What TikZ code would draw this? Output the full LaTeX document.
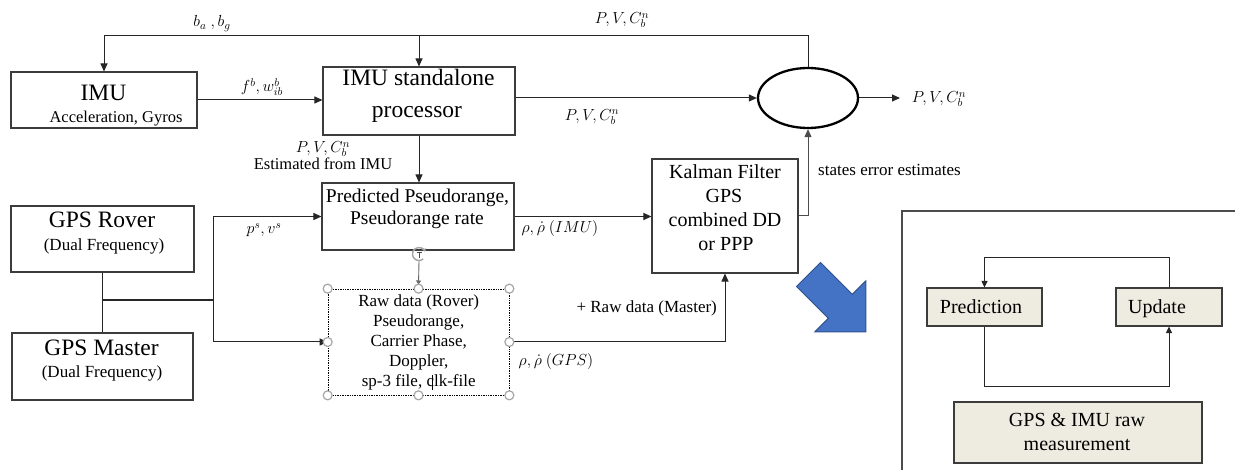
\RequirePackage{fix-cm}
\documentclass[tikz,border=0pt]{standalone}
\usepackage{fontspec}
\setmainfont{Liberation Serif}
\usetikzlibrary{arrows.meta,shapes.geometric}
\definecolor{boxc}{HTML}{3C3C3C}
\definecolor{linec}{HTML}{262626}
\definecolor{paper}{HTML}{EEECE1}
\definecolor{kfblue}{HTML}{4472C4}
\definecolor{kfedge}{HTML}{2F528F}
\definecolor{handlec}{HTML}{A6A6A6}
\tikzset{
  box/.style={draw=boxc, line width=1.1pt, inner sep=0pt, rectangle},
  tanbox/.style={box, fill=paper},
  tx/.style={inner sep=0pt, anchor=base},
  fbig/.style={font=\fontsize{23.5}{27}\selectfont},
  fmid/.style={font=\fontsize{20}{24}\selectfont},
  fpred/.style={font=\fontsize{19.5}{23}\selectfont},
  fsm/.style={font=\fontsize{17}{20}\selectfont},
  fsub/.style={font=\fontsize{16.5}{19}\selectfont},
  flab/.style={font=\fontsize{16}{19}\selectfont},
  wire/.style={draw=linec, line width=1pt},
  arr/.style={wire, -{Triangle[length=8pt,width=7pt]}},
  sarr/.style={wire, -{Triangle[length=6.5pt,width=6pt]}},
  grip/.style={draw=handlec, fill=white, line width=1.2pt},
}
\begin{document}
\begin{tikzpicture}[x=1pt,y=-1pt]
\useasboundingbox (0,0) rectangle (1235,470);

% ---- main blocks ----
\node[box, minimum width=186pt, minimum height=56pt] (imu) at (104,100) {};
\node[box, minimum width=192pt, minimum height=68pt] (sa) at (419,101) {};
\node[box, minimum width=192pt, minimum height=67pt] (pred) at (418,216.5) {};
\node[box, minimum width=146pt, minimum height=114pt] (kal) at (725,216) {};
\node[box, minimum width=183pt, minimum height=66pt] (rover) at (102.5,239) {};
\node[box, minimum width=181pt, minimum height=67pt] (master) at (102.5,366.5) {};
\node[draw=black, densely dotted, line width=0.7pt, inner sep=0pt,
      minimum width=181pt, minimum height=106pt] (raw) at (418.5,342) {};
\node[draw=black, line width=2.3pt, ellipse, inner sep=0pt,
      minimum width=100pt, minimum height=60pt] (ell) at (808,98) {};

% ---- block texts ----
\node[tx, fbig] (imu-1) at (103.5,101) {IMU};
\node[tx, fsub] (imu-2) at (116,123) {Acceleration, Gyros};
\node[tx, fbig] (sa-1) at (418.5,86) {IMU standalone};
\node[tx, fbig] (sa-2) at (417,118) {processor};
\node[tx, fpred] (pred-1) at (417.5,203) {Predicted Pseudorange,};
\node[tx, fpred] (pred-2) at (417,225) {Pseudorange rate};
\node[tx, fmid] (kal-1) at (725,179) {Kalman Filter};
\node[tx, fmid] (kal-2) at (724,203) {GPS};
\node[tx, fmid] (kal-3) at (725,227) {combined DD};
\node[tx, fmid] (kal-4) at (726,251) {or PPP};
\node[tx, fbig] (rov-1) at (102,228) {GPS Rover};
\node[tx, fsm] (rov-2) at (104,250.5) {(Dual Frequency)};
\node[tx, fbig] (mas-1) at (101.5,356) {GPS Master};
\node[tx, fsm] (mas-2) at (102,378) {(Dual Frequency)};
\node[tx, fsm] (raw-1) at (418.7,306.7) {Raw data (Rover)};
\node[tx, fsm] (raw-2) at (418.7,326.7) {Pseudorange,};
\node[tx, fsm] (raw-3) at (418.7,346.7) {Carrier Phase,};
\node[tx, fsm] (raw-4) at (418.7,366.7) {Doppler,};
\node[tx, fsm] (raw-5) at (418.7,387) {sp-3 file, clk-file};

% ---- connector labels ----
\node[tx, flab] (l-bias) at (212,27) {$b_a\ ,b_g$};
\node[tx, flab] (l-fw) at (262,92) {$f^b,w_{ib}^b$};
\node[tx, flab] (l-top) at (622,24) {$P,V,C_b^n$};
\node[tx, flab] (l-mid) at (592,120.7) {$P,V,C_b^n$};
\node[tx, flab] (l-out) at (939,103) {$P,V,C_b^n$};
\node[tx, flab] (l-est) at (323,153) {$P,V,C_b^n$};
\node[tx, fsub] (l-est2) at (323,170) {Estimated from IMU};
\node[tx, fsm] (l-err) at (889.5,175.7) {states error estimates};
\node[tx, flab] (l-ps) at (264,234) {$p^s,v^s$};
\node[tx, flab] (l-rimu) at (560,232.7) {$\rho,\dot{\rho}\ (IMU)$};
\node[tx, fsm] (l-master) at (646.7,312.7) {+ Raw data (Master)};
\node[tx, flab] (l-rgps) at (556,365.7) {$\rho,\dot{\rho}\ (GPS)$};

% ---- connectors ----
\coordinate (fb) at (0,36);
\coordinate (jn) at (213,300);
\coordinate (out) at (900,98);
\draw[arr] (ell.north) -- (ell.north |- fb) -| (imu.north);
\draw[arr] (sa.north |- fb) -- (sa.north);
\draw[arr] (imu.east) -- (imu.east -| sa.west);
\draw[arr] (sa.east |- ell.west) -- (ell.west);
\draw[arr] (ell.east) -- (out);
\draw[arr] (sa.south) -- (sa.south |- pred.north);
\draw[arr] (pred.east) -- (pred.east -| kal.west);
\draw[arr, draw=black!70] (kal.east) -| (ell.south);
\draw[arr] (raw.east) -| (kal.south);
\draw[wire] (rover.south) -- (master.north);
\draw[wire, line width=1.7pt] (rover.south |- jn) -- (jn);
\draw[arr] (jn) |- (pred.west);
\draw[arr] (jn) |- (raw.west);

% link into the raw data box, with its rotate grip and handles
\coordinate (rot) at (419,254);
\draw[draw=black!60, line width=0.9pt, -{Triangle[length=4pt,width=5pt]}]
  (rot) ++(0,7) -- (raw.north |- 0,284.5);
\draw[draw=handlec, line width=1.5pt, -{Stealth[length=3.5pt,width=4.5pt]}]
  ([shift={(50:6.5)}]rot) arc[start angle=50, end angle=340, radius=6.5];
\draw[draw=black!70, line width=0.6pt] (rot) ++(-2.5,-2) -- ++(5,0) (rot) ++(0,-2) -- ++(0,6);
\foreach \a in {north west,north,north east,west,east,south west,south,south east}
  \draw[grip] (raw.\a) circle (4.5);
\draw[black, line width=0.6pt] (432.7,375) -- (432.7,390);

% ---- pointer arrow ----
\fill[kfblue, draw=kfedge, line width=1pt]
  (820.5,262.5) -- (852.3,294.3) -- (865.8,280.9) -- (865.8,331.8)
  -- (814.9,331.8) -- (828.3,318.3) -- (796.5,286.5) -- cycle;

% ---- Kalman cycle panel ----
\draw[draw=black!70, line width=1.1pt] (902,470) -- (902,211) -- (1235,211);
\node[tanbox, minimum width=115pt, minimum height=38pt] (pr) at (984.5,307) {};
\node[tanbox, minimum width=106pt, minimum height=38pt] (up) at (1169,307) {};
\node[tanbox, minimum width=248pt, minimum height=61pt] (meas) at (1078,432.5) {};
\node[tx, fmid] (pr-t) at (981,314) {Prediction};
\node[tx, fmid] (up-t) at (1157,314) {Update};
\node[tx, fmid] (meas-1) at (1077,426.7) {GPS \& IMU raw};
\node[tx, fmid] (meas-2) at (1077,450.7) {measurement};
\coordinate (lt) at (0,258);
\coordinate (lb) at (0,387);
\draw[sarr] (up.north) -- (up.north |- lt) -| (pr.north);
\draw[sarr] (pr.south) -- (pr.south |- lb) -| (up.south);
\end{tikzpicture}
\end{document}
